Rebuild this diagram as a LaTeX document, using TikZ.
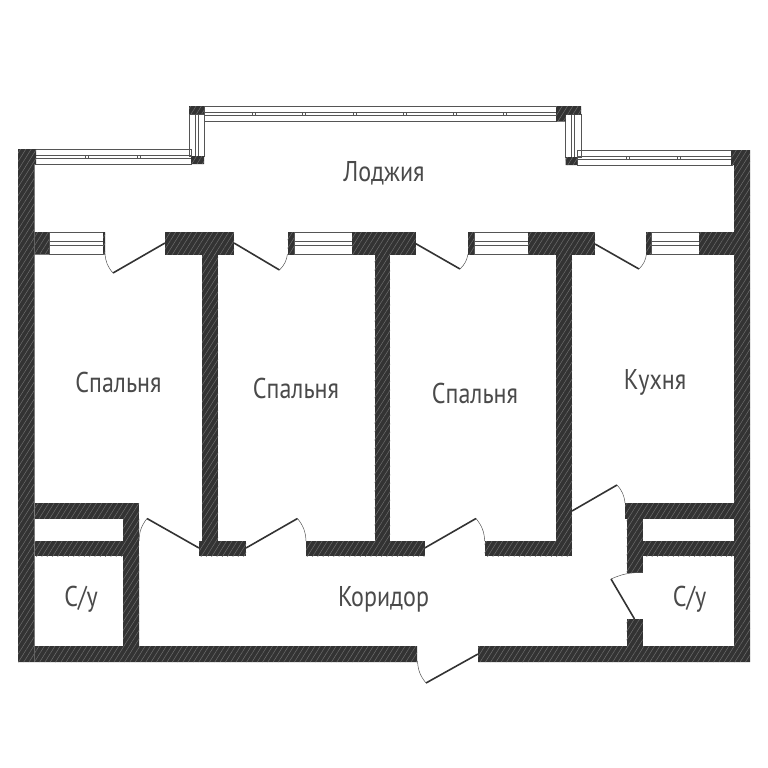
\documentclass[tikz,border=0pt]{standalone}
\usepackage{fontspec}
\setmainfont[FakeStretch=0.84]{PT Sans}
\usepackage{tikz}
\usetikzlibrary{patterns.meta}
\definecolor{wallcolor}{HTML}{333333}
\definecolor{hatchcolor}{HTML}{6E6E6E}
\definecolor{framecolor}{HTML}{555555}
\definecolor{labelcolor}{HTML}{4A4A4A}
\tikzset{
    wall/.style={fill=wallcolor, postaction={pattern={Lines[angle=58,distance=4.5pt,line width=0.5pt]}, pattern color=hatchcolor}},
    frame/.style={draw=framecolor, line width=0.8pt},
    doorleaf/.style={draw=wallcolor, line width=1.6pt},
    doorarc/.style={draw=framecolor, line width=0.5pt},
    roomlabel/.style={text=labelcolor, font=\fontsize{28.6}{32}\selectfont}
}

\begin{document}
\begin{tikzpicture}[x=1pt, y=-1pt]
    \useasboundingbox (0,0) rectangle (768,768);

    % Loggia windows
    \draw[frame] (35,149) rectangle (191,164);
    \draw[frame] (189,114) rectangle (204,156);
    \draw[frame] (204,106) rectangle (556,121.5);
    \draw[frame] (565.5,114) rectangle (581,157);
    \draw[frame] (577,150) rectangle (732,165);
    \draw[frame] (35,155) rectangle (191,158);
    \draw[frame] (195,114) rectangle (198,156);
    \draw[frame] (204,112) rectangle (556,115.5);
    \draw[frame] (571.5,114) rectangle (574.5,157);
    \draw[frame] (577,156.5) rectangle (732,159.5);
    \foreach \x in {87,139}
        \draw[frame, line width=0.5pt] (\x-1.5,155) -- (\x-1.5,158) (\x+1.5,155) -- (\x+1.5,158);
    \foreach \x in {254,304,355,405,455,505}
        \draw[frame, line width=0.5pt] (\x-1.5,112) -- (\x-1.5,115.5) (\x+1.5,112) -- (\x+1.5,115.5);
    \foreach \x in {628,679}
        \draw[frame, line width=0.5pt] (\x-1.5,156.5) -- (\x-1.5,159.5) (\x+1.5,156.5) -- (\x+1.5,159.5);

    % Room windows
    \foreach \a/\b in {49/103,294/352,474/528,651/699} {
        \draw[frame] (\a,232) rectangle (\b,254.5);
        \draw[frame] (\a,241.5) rectangle (\b,245);
    }

    % Outer walls
    \path[wall] (18,149) rectangle (36,164) (18,164) rectangle (34.5,662);
    \path[wall] (731,150) rectangle (750,165) (734,165) rectangle (750,662);
    \path[wall] (34.5,646) rectangle (417,662) (478,646) rectangle (734,662);
    \path[wall] (189,106) rectangle (204,114) (191,156) rectangle (204,164);
    \path[wall] (556,106) rectangle (581,114.5) (556,114.5) rectangle (565.5,121.5) (565.5,157) rectangle (577,165);

    % Wall along the loggia
    \path[wall] (34.5,232) rectangle (49,254.7) (103,232) rectangle (105,254.7);
    \path[wall] (165,232) rectangle (234,254.7);
    \path[wall] (287.5,232) rectangle (294,254.7);
    \path[wall] (352,232) rectangle (415.5,254.7);
    \path[wall] (468,232) rectangle (474,254.7);
    \path[wall] (528,232) rectangle (595,254.7);
    \path[wall] (646,232) rectangle (651,254.7);
    \path[wall] (699,232) rectangle (734,254.7);

    % Walls between rooms
    \path[wall] (202,254.7) rectangle (218,541);
    \path[wall] (374.5,254.7) rectangle (390,541);
    \path[wall] (556,254.7) rectangle (572,556);

    % Wall along the corridor
    \path[wall] (34.5,541) rectangle (139,556);
    \path[wall] (199,541) rectangle (246,556);
    \path[wall] (306,541) rectangle (424.7,556);
    \path[wall] (484.7,541) rectangle (556,556);

    % Left bathroom
    \path[wall] (34.5,503) rectangle (139,518.7);
    \path[wall] (123,518.7) rectangle (139,541) (123,556) rectangle (139,646);

    % Right bathroom
    \path[wall] (625,503) rectangle (734,518.7);
    \path[wall] (626.5,518.7) rectangle (642.7,572.5);
    \path[wall] (642.7,541) rectangle (734,556);
    \path[wall] (626.5,619) rectangle (642.7,646);

    % Doors
    \draw[doorleaf] (165,243) -- (113,273);
    \draw[doorarc] (113,273) to[bend left=18] (105,254);
    \draw[doorleaf] (234,243) -- (279.5,270);
    \draw[doorarc] (279.5,270) to[bend right=18] (287.5,254);
    \draw[doorleaf] (415.5,243.5) -- (460,269);
    \draw[doorarc] (460,269) to[bend right=18] (468,254);
    \draw[doorleaf] (595,244) -- (639,269);
    \draw[doorarc] (639,269) to[bend right=18] (646.5,254);
    \draw[doorleaf] (199,548) -- (147,518.5);
    \draw[doorarc] (147,518.5) to[bend right=18] (139,541);
    \draw[doorleaf] (246,548) -- (297.5,518.5);
    \draw[doorarc] (297.5,518.5) to[bend left=18] (306,541);
    \draw[doorleaf] (424.7,548) -- (476,518.5);
    \draw[doorarc] (476,518.5) to[bend left=18] (484.7,541);
    \draw[doorleaf] (572,511) -- (617,485);
    \draw[doorarc] (617,485) to[bend left=18] (625,503);
    \draw[doorleaf] (634.5,619) -- (611,579);
    \draw[doorarc] (611,579) to[bend left=12] (642,572.5);
    \draw[doorleaf] (478,654) -- (426,683);
    \draw[doorarc] (426,683) to[bend left=18] (417.5,661);

    % Room labels
    \node[roomlabel] (loggia) at (384,173) {Лоджия};
    \node[roomlabel] (bedroomA) at (118.5,382) {Спальня};
    \node[roomlabel] (bedroomB) at (296,388) {Спальня};
    \node[roomlabel] (bedroomC) at (475,393) {Спальня};
    \node[roomlabel] (kitchen) at (655,382) {Кухня};
    \node[roomlabel] (corridor) at (383.5,599) {Коридор};
    \node[roomlabel] (bathA) at (81,599) {С/у};
    \node[roomlabel] (bathB) at (689.5,599) {С/у};
\end{tikzpicture}
\end{document}
